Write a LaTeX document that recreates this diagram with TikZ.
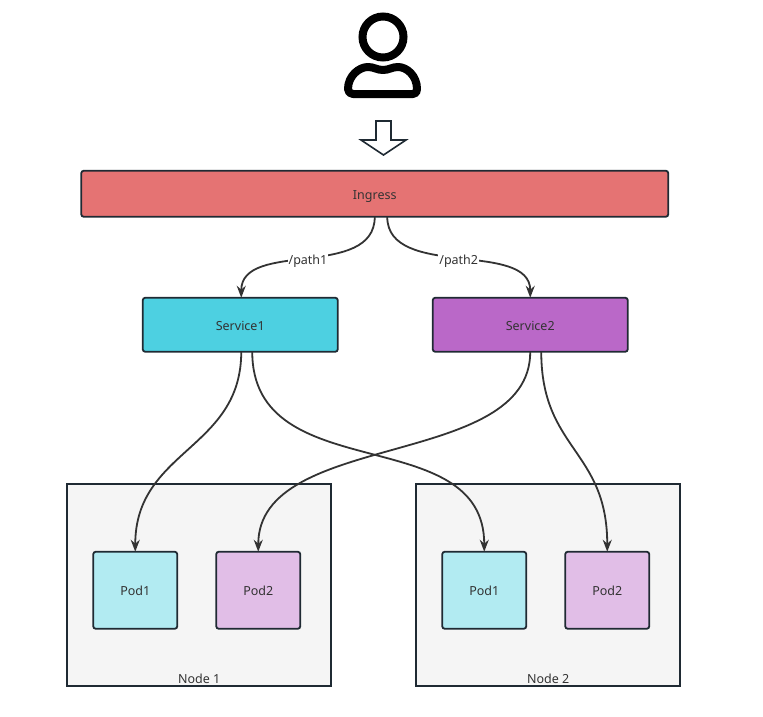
\documentclass[tikz,border=0pt]{standalone}
\usepackage{fontspec}
\setmainfont{Noto Sans}
\usetikzlibrary{positioning,arrows.meta}
\definecolor{linegray}{HTML}{333333}
\definecolor{boxedge}{HTML}{1F2A33}
\definecolor{ingressred}{HTML}{E57373}
\definecolor{servicecyan}{HTML}{4DD0E1}
\definecolor{servicepurple}{HTML}{BA68C8}
\definecolor{podcyan}{HTML}{B2EBF2}
\definecolor{podpurple}{HTML}{E1BEE7}
\definecolor{nodegray}{HTML}{F5F5F5}

\begin{document}
\begin{tikzpicture}[
        x=1pt, y=-1pt,
        >={Stealth[length=12pt, width=9pt]},
        every node/.style={text=linegray, font=\fontsize{12.5}{14}\selectfont, outer sep=0pt, text height=11pt, text depth=0pt},
        box/.style={rectangle, draw=boxedge, line width=1.8pt, rounded corners=2.5pt},
        ingressbox/.style={box, fill=ingressred, minimum width=587pt, minimum height=46pt},
        servicebox/.style={box, minimum width=195pt, minimum height=54pt},
        podbox/.style={box, minimum width=84pt, minimum height=77pt},
        nodebox/.style={rectangle, draw=boxedge, fill=nodegray, line width=1.8pt, minimum width=264pt, minimum height=202pt},
        pathlabel/.style={fill=white, inner sep=1pt},
        flow/.style={->, draw=linegray, line width=1.8pt},
]
        \useasboundingbox (0,0) rectangle (763,717);

        % user
        \draw[black, line width=8pt] (383,37) circle (20.5pt);
        \draw[black, line width=8pt, line join=round] (353,94) -- (413,94)
            .. controls (416,94) and (417,92) .. (417,89)
            .. controls (417,76) and (407,67) .. (398,67)
            .. controls (392,67) and (389,70) .. (383,70)
            .. controls (377,70) and (374,67) .. (368,67)
            .. controls (359,67) and (348,76) .. (348,89)
            .. controls (348,92) and (350,94) .. (353,94) -- cycle;
        \draw[draw=boxedge, line width=1.6pt, line join=miter, fill=white] (376,121) -- (391,121) -- (391,140) -- (406,140)
            -- (383.5,155) -- (361,140) -- (376,140) -- cycle;

        \node[ingressbox] (ingress) at (374.75,193.75) {Ingress};
        \node[servicebox, fill=servicecyan] (serviceone) [below=81pt of ingress, xshift=-134.5pt] {Service1};
        \node[servicebox, fill=servicepurple] (servicetwo) [right=95pt of serviceone] {Service2};

        \node[nodebox] (nodeone) [below=132pt of serviceone, xshift=-41pt] {};
        \node[nodebox] (nodetwo) [right=85pt of nodeone] {};
        \node (nodeonelabel) [above=2.5pt of nodeone.south, inner sep=0pt] {Node 1};
        \node (nodetwolabel) [above=2.5pt of nodetwo.south, inner sep=0pt] {Node 2};

        \node[podbox, fill=podcyan] (podoneleft) [above=57pt of nodeone.south, xshift=-64pt] {Pod1};
        \node[podbox, fill=podpurple] (podtwoleft) [right=39pt of podoneleft] {Pod2};
        \node[podbox, fill=podcyan] (podoneright) [above=57pt of nodetwo.south, xshift=-64pt] {Pod1};
        \node[podbox, fill=podpurple] (podtworight) [right=39pt of podoneright] {Pod2};

        \draw[flow] (ingress.south) .. controls +(0,63) and +(0,-58) .. ([xshift=1pt]serviceone.north)
            node[pathlabel, pos=0.5] (pathone) {/path1};
        \draw[flow] ([xshift=12.5pt]ingress.south) .. controls +(0,63) and +(0,-58) .. (servicetwo.north)
            node[pathlabel, pos=0.5] (pathtwo) {/path2};

        \draw[flow] ([xshift=1pt]serviceone.south) .. controls +(0,98) and +(0,-102) .. (podoneleft.north);
        \draw[flow] ([xshift=12pt]serviceone.south) .. controls +(0,138) and +(0,-132) .. (podoneright.north);
        \draw[flow] (servicetwo.south) .. controls +(0,118) and +(0,-122) .. (podtwoleft.north);
        \draw[flow] ([xshift=11pt]servicetwo.south) .. controls +(0,98) and +(0,-102) .. (podtworight.north);
\end{tikzpicture}
\end{document}
